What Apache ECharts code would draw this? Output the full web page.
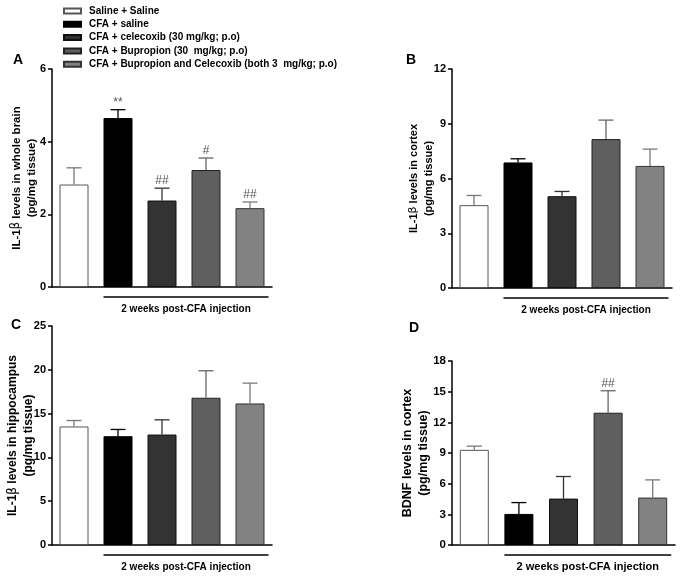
<!DOCTYPE html>
<html><head><meta charset="utf-8">
<script src="https://cdn.jsdelivr.net/npm/echarts@6/dist/echarts.min.js"></script>
<style>html,body{margin:0;padding:0;background:#fff}#c{width:683px;height:580px}</style>
</head><body><div id="c"></div>
<script>
// ---- data ----
const groups = ['Saline + Saline', 'CFA + saline', 'CFA + celecoxib (30 mg/kg; p.o)', 'CFA + Bupropion (30  mg/kg; p.o)', 'CFA + Bupropion and Celecoxib (both 3  mg/kg; p.o)'];
const panelLetters = ['A', 'B', 'C', 'D'];
const yTitles = ['IL-1β levels in whole brain', 'IL-1β levels in cortex', 'IL-1β levels in hippocampus', 'BDNF levels in cortex'];
const yUnit = '(pg/mg tissue)';
const yMax = [6, 12, 25, 18];
const yInterval = [2, 3, 5, 3];
const wholeBrainMean = [2.82, 4.65, 2.38, 3.22, 2.17];
const wholeBrainSem  = [0.46, 0.23, 0.34, 0.33, 0.17];
const cortexMean = [4.54, 6.88, 5.03, 8.16, 6.69];
const cortexSem  = [0.53, 0.20, 0.26, 1.04, 0.92];
const hippoMean = [13.53, 12.42, 12.61, 16.81, 16.16];
const hippoSem  = [0.68, 0.77, 1.68, 3.08, 2.32];
const bdnfMean = [9.31, 3.04, 4.54, 12.94, 4.64];
const bdnfSem  = [0.36, 1.11, 2.16, 2.15, 1.73];
const signifA = ['', '**', '##', '#', '##'];
const signifB = ['', '', '', '', ''];
const signifC = ['', '', '', '', ''];
const signifD = ['', '', '', '##', ''];
const underlineSpan = [1, 4]; // categories covered by the post-CFA line
const caption = '2 weeks post-CFA injection';

// ---- styling ----
const means = [wholeBrainMean, cortexMean, hippoMean, bdnfMean];
const sems = [wholeBrainSem, cortexSem, hippoSem, bdnfSem];
const signif = [signifA, signifB, signifC, signifD];
const barColors = ['#ffffff', '#000000', '#333333', '#5f5f5f', '#828282'];
const barBorders = ['#555555', '#000000', '#111111', '#222222', '#333333'];
const errColors = ['#777777', '#000000', '#333333', '#666666', '#7a7a7a'];
const FONT = '"Liberation Sans", Arial, sans-serif';
const BW = 29;
const grids = [
  {left: 52, top: 69, width: 220, height: 218},
  {left: 452, top: 69, width: 220, height: 219},
  {left: 52, top: 326, width: 220, height: 219},
  {left: 452, top: 361, width: 223, height: 184}
];
const nameGaps = [13, 16, 15, 20];
const titleSizes = [11.5, 11, 12, 12.5];
const titleLH = [15, 15, 16, 16];
const tickSizes = [11, 11, 11, 11.5];
const captionSizes = [10, 10, 10, 11];
const letterPos = [[18, 60], [411, 60], [16, 325], [414, 328]];

function richName(t) {
  const parts = t.split('β');
  let s = parts.length > 1 ? '{b|' + parts[0] + '}{g|β}{b|' + parts[1] + '}' : '{b|' + t + '}';
  return s + '\n{b|' + yUnit + '}';
}

const xAxes = [], yAxes = [], series = [];
for (let p = 0; p < 4; p++) {
  xAxes.push({
    gridIndex: p, type: 'category', data: groups,
    axisLine: {show: true, lineStyle: {color: '#000', width: 1.5}},
    axisTick: {show: false}, axisLabel: {show: false}, splitLine: {show: false}
  });
  yAxes.push({
    gridIndex: p, type: 'value', min: 0, max: yMax[p], interval: yInterval[p],
    axisLine: {show: true, lineStyle: {color: '#000', width: 1.5}},
    axisTick: {show: true, length: 4, lineStyle: {color: '#000', width: 1.5}},
    axisLabel: {color: '#000', fontWeight: 'bold', fontSize: tickSizes[p], fontFamily: FONT, margin: 6},
    splitLine: {show: false},
    name: richName(yTitles[p]), nameLocation: 'middle', nameRotate: 90, nameGap: nameGaps[p],
    nameMoveOverlap: false,
    nameTextStyle: {
      rich: {
        b: {fontFamily: FONT, fontWeight: 'bold', fontSize: titleSizes[p], color: '#000', lineHeight: titleLH[p]},
        g: {fontFamily: '"DejaVu Sans", sans-serif', fontWeight: 'normal', fontSize: titleSizes[p], color: '#000', lineHeight: titleLH[p]}
      }
    }
  });
  groups.forEach((g, k) => {
    series.push({
      type: 'bar', name: g, xAxisIndex: p, yAxisIndex: p,
      barWidth: BW, barGap: '-100%',
      itemStyle: {color: barColors[k], borderColor: barBorders[k], borderWidth: 1},
      data: means[p].map((v, i) => i === k ? v : '-'),
      silent: true, animation: false
    });
  });
  const pp = p;
  series.push({
    type: 'custom', xAxisIndex: p, yAxisIndex: p, z: 3, silent: true, animation: false,
    data: means[p].map((m, i) => [i, m, m + sems[p][i]]),
    renderItem: (params, api) => {
      const i = api.value(0);
      const b = api.coord([i, api.value(1)]);
      const t = api.coord([i, api.value(2)]);
      const col = errColors[i];
      const ch = [
        {type: 'line', shape: {x1: b[0], y1: b[1], x2: t[0], y2: t[1]}, style: {stroke: col, lineWidth: 1.3}},
        {type: 'line', shape: {x1: t[0] - 7.5, y1: t[1], x2: t[0] + 7.5, y2: t[1]}, style: {stroke: col, lineWidth: 1.3}}
      ];
      const a = signif[pp][params.dataIndex];
      if (a) ch.push({type: 'text', x: t[0], y: t[1] - 1, style: {text: a, fill: '#555', font: '12px ' + FONT, align: 'center', verticalAlign: 'bottom'}});
      return {type: 'group', children: ch};
    }
  });
  series.push({
    type: 'custom', xAxisIndex: p, yAxisIndex: p, silent: true, animation: false, clip: false,
    data: [[underlineSpan[0], 0]],
    renderItem: (params, api) => {
      const s = api.coord([underlineSpan[0], 0]);
      const e = api.coord([underlineSpan[1], 0]);
      const x1 = s[0] - BW / 2, x2 = e[0] + BW / 2 + 4, y = s[1] + 10;
      return {type: 'group', children: [
        {type: 'line', shape: {x1: x1, y1: y, x2: x2, y2: y}, style: {stroke: '#000', lineWidth: 1.3}},
        {type: 'text', x: (x1 + x2) / 2, y: y + 12, style: {text: caption, fill: '#000', font: 'bold ' + captionSizes[pp] + 'px ' + FONT, align: 'center', verticalAlign: 'middle'}}
      ]};
    }
  });
}

const graphic = panelLetters.map((l, p) => ({
  type: 'text', x: letterPos[p][0], y: letterPos[p][1],
  style: {text: l, fill: '#000', font: 'bold 14px ' + FONT, align: 'center', verticalAlign: 'middle'}
}));

const chart = echarts.init(document.getElementById('c'), null, {renderer: 'canvas'});
chart.setOption({
  animation: false,
  backgroundColor: '#fff',
  grid: grids,
  xAxis: xAxes,
  yAxis: yAxes,
  legend: {
    data: groups, orient: 'vertical', left: 63, top: 5, padding: 0,
    itemWidth: 17, itemHeight: 5, itemGap: 1.3, icon: 'rect', selectedMode: false,
    textStyle: {fontFamily: FONT, fontWeight: 'bold', fontSize: 10, color: '#000', lineHeight: 12, padding: [0, 0, 0, 3]}
  },
  graphic: graphic,
  series: series
});
</script>
</body></html>
